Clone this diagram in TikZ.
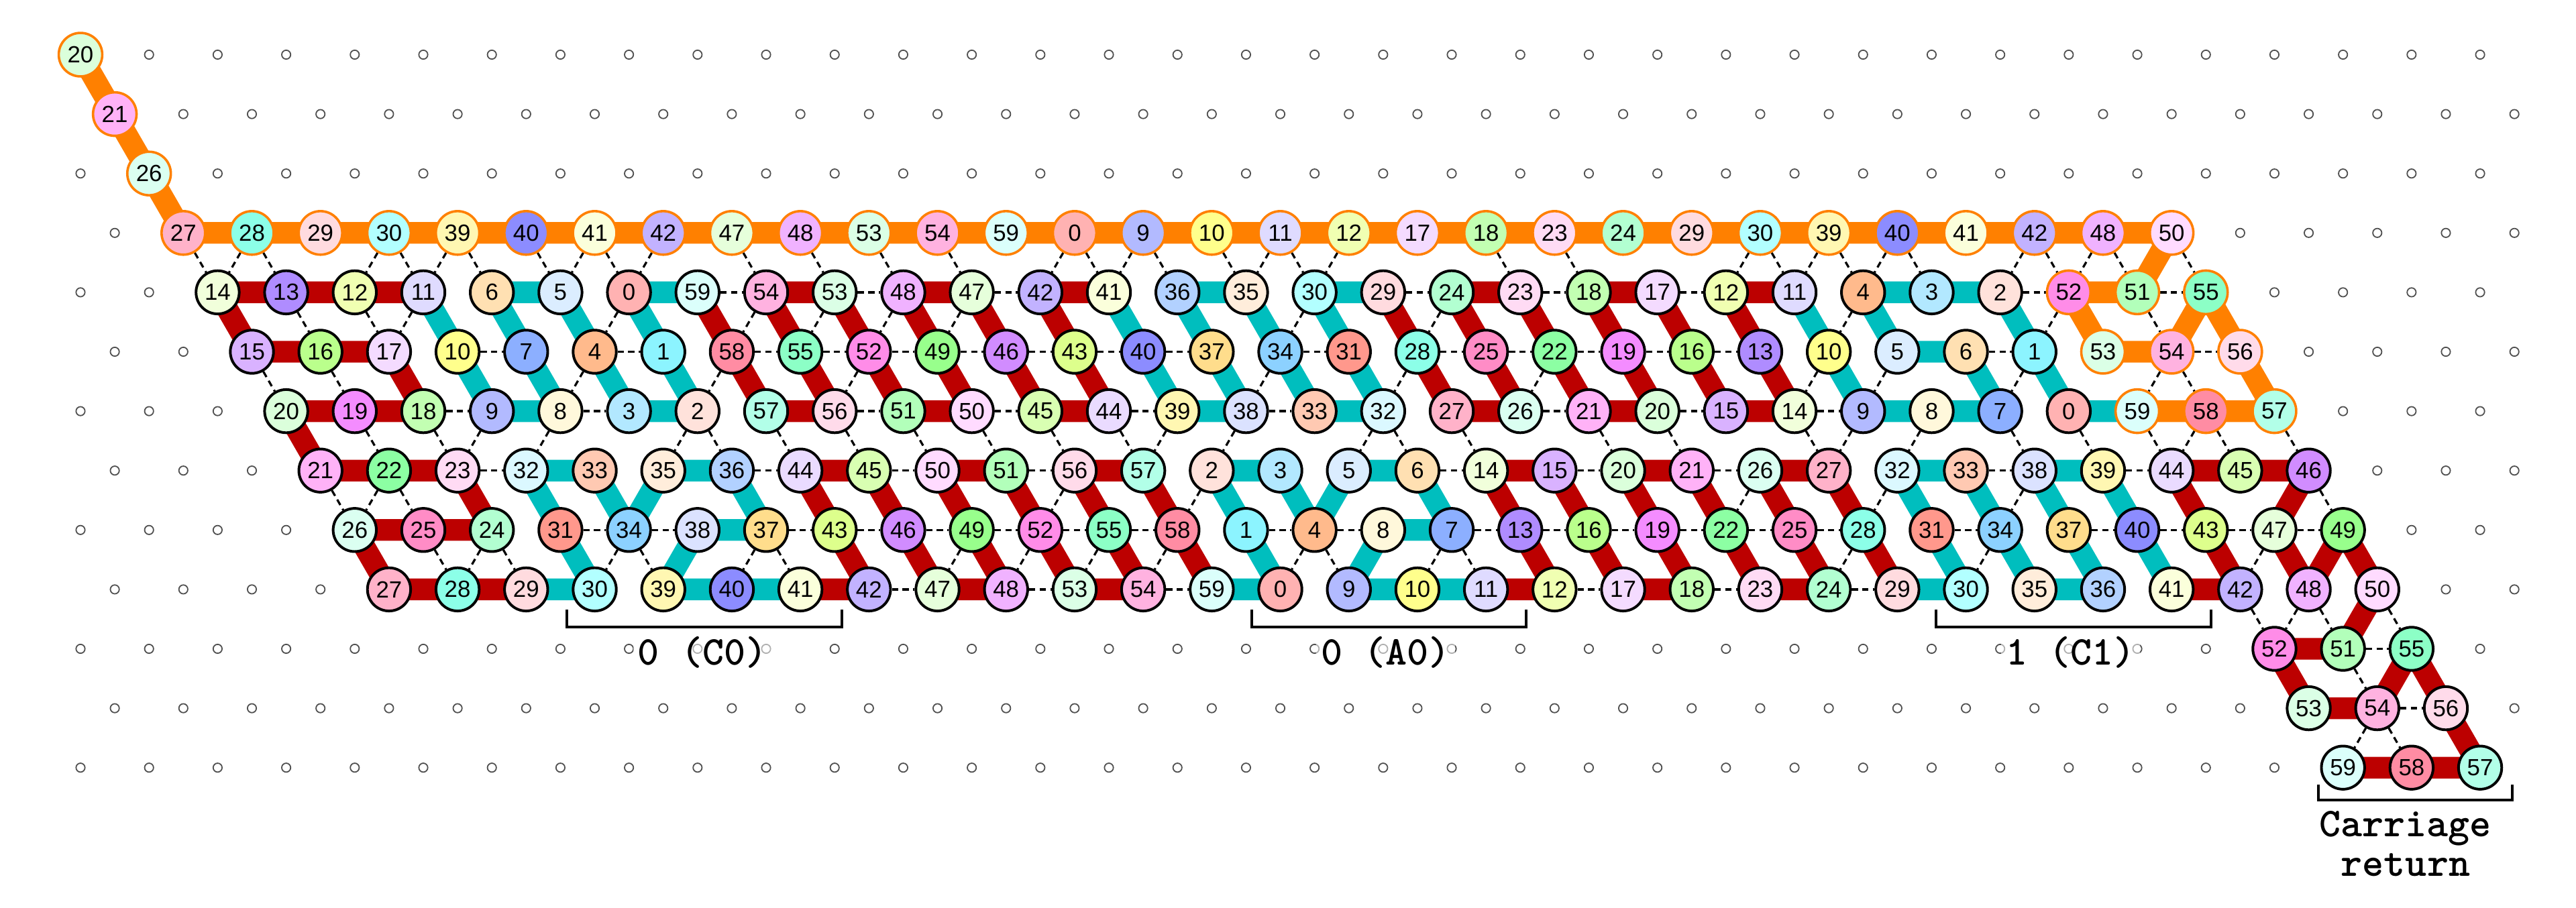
\documentclass[tikz,border=0pt]{standalone}
\usepackage{fontspec}
\newfontfamily\numfont{Liberation Sans}
\pgfdeclarelayer{dots}
\pgfdeclarelayer{edges}
\pgfsetlayers{dots,edges,main}
\definecolor{seedorange}{RGB}{255,128,0}
\definecolor{bbred}{RGB}{188,0,0}
\definecolor{bbteal}{RGB}{0,190,190}
\definecolor{dotgray}{RGB}{80,80,80}
\newcommand\placebead[4]{%
  \pgfmathsetmacro\beadhue{mod(6*#3+180*mod(#3,2),360)/60}%
  \pgfmathtruncatemacro\beadtone{mod(#3,3)}%
  \ifcase\beadtone\relax \def\beadsat{0.30}\or \def\beadsat{0.45}\else \def\beadsat{0.14}\fi
  \pgfmathsetmacro\chr{1-\beadsat*(1-min(1,max(0,abs(\beadhue-3)-1)))}%
  \pgfmathsetmacro\chg{1-\beadsat*(1-min(1,max(0,2-abs(\beadhue-2))))}%
  \pgfmathsetmacro\chb{1-\beadsat*(1-min(1,max(0,2-abs(\beadhue-4))))}%
  \definecolor{beadfill}{rgb}{\chr,\chg,\chb}%
  \node[#4, fill=beadfill] (N#1-#2) at ({1.1742+0.5*#1},{-0.7975-0.8669*#2}) {#3};%
}
\begin{document}
\begin{tikzpicture}[
  bead/.style={circle, draw=black, line width=1.1pt, minimum size=0.63cm, inner sep=0pt, font=\numfont\fontsize{9.7}{10}\selectfont},
  seedbead/.style={bead, draw=seedorange, line width=1pt, minimum size=0.635cm},
  latdot/.style={draw=dotgray, line width=0.5pt},
  bond/.style={black, line width=0.9pt, dash pattern=on 2.6pt off 1.8pt},
  seedpath/.style={seedorange, line width=9pt, line join=round, line cap=round},
  redpath/.style={bbred, line width=9pt, line join=round, line cap=round},
  tealpath/.style={bbteal, line width=9pt, line join=round, line cap=round},
  bracket/.style={black, line width=1.1pt},
  lbl/.style={font=\ttfamily\bfseries\fontsize{17}{17}\selectfont, inner sep=2pt},
  lblbg/.style={lbl, fill=white, fill opacity=0.55, text opacity=1},
]
\useasboundingbox (0,0) rectangle (37.573,-13.239);

% lattice dots
\begin{pgfonlayer}{dots}
\foreach \r in {0,...,12}{
  \pgfmathtruncatemacro\rowpar{mod(\r,2)}
  \foreach \k in {0,...,35}{
    \draw[latdot] ({1.1742+0.5*(\rowpar+2*\k)},{-0.7975-0.8669*\r}) circle (0.065);
  }
}
\end{pgfonlayer}

% seed beads
\placebead{0}{0}{20}{seedbead}
\placebead{1}{1}{21}{seedbead}
\placebead{2}{2}{26}{seedbead}
\foreach \v [count=\i from 0] in {27,28,29,30,39,40,41,42,47,48,53,54,59,0,9,10,11,12,17,18,23,24,29,30,39,40,41,42,48,50}{
  \pgfmathtruncatemacro\cc{3+2*\i}\placebead{\cc}{3}{\v}{seedbead}}
\placebead{58}{4}{52}{seedbead}
\placebead{60}{4}{51}{seedbead}
\placebead{62}{4}{55}{seedbead}
\placebead{59}{5}{53}{seedbead}
\placebead{61}{5}{54}{seedbead}
\placebead{63}{5}{56}{seedbead}
\placebead{60}{6}{59}{seedbead}
\placebead{62}{6}{58}{seedbead}
\placebead{64}{6}{57}{seedbead}

% transcript beads
\foreach \v [count=\i from 0] in {14,13,12,11,6,5,0,59,54,53,48,47,42,41,36,35,30,29,24,23,18,17,12,11,4,3,2}{
  \pgfmathtruncatemacro\cc{4+2*\i}\placebead{\cc}{4}{\v}{bead}}
\foreach \v [count=\i from 0] in {15,16,17,10,7,4,1,58,55,52,49,46,43,40,37,34,31,28,25,22,19,16,13,10,5,6,1}{
  \pgfmathtruncatemacro\cc{5+2*\i}\placebead{\cc}{5}{\v}{bead}}
\foreach \v [count=\i from 0] in {20,19,18,9,8,3,2,57,56,51,50,45,44,39,38,33,32,27,26,21,20,15,14,9,8,7,0}{
  \pgfmathtruncatemacro\cc{6+2*\i}\placebead{\cc}{6}{\v}{bead}}
\foreach \v [count=\i from 0] in {21,22,23,32,33,35,36,44,45,50,51,56,57,2,3,5,6,14,15,20,21,26,27,32,33,38,39,44,45,46}{
  \pgfmathtruncatemacro\cc{7+2*\i}\placebead{\cc}{7}{\v}{bead}}
\foreach \v [count=\i from 0] in {26,25,24,31,34,38,37,43,46,49,52,55,58,1,4,8,7,13,16,19,22,25,28,31,34,37,40,43,47,49}{
  \pgfmathtruncatemacro\cc{8+2*\i}\placebead{\cc}{8}{\v}{bead}}
\foreach \v [count=\i from 0] in {27,28,29,30,39,40,41,42,47,48,53,54,59,0,9,10,11,12,17,18,23,24,29,30,35,36,41,42,48,50}{
  \pgfmathtruncatemacro\cc{9+2*\i}\placebead{\cc}{9}{\v}{bead}}
\placebead{64}{10}{52}{bead}
\placebead{66}{10}{51}{bead}
\placebead{68}{10}{55}{bead}
\placebead{65}{11}{53}{bead}
\placebead{67}{11}{54}{bead}
\placebead{69}{11}{56}{bead}
\placebead{66}{12}{59}{bead}
\placebead{68}{12}{58}{bead}
\placebead{70}{12}{57}{bead}

\begin{pgfonlayer}{edges}
% backbone
\draw[seedpath] (N0-0.center) \foreach \p in {1-1,2-2,3-3,61-3,60-4,58-4,59-5,61-5,62-4,63-5,64-6,62-6,60-6}{ -- (N\p.center)};
\draw[tealpath] (N60-6.center) \foreach \p in {58-6,57-5,56-4,54-4,52-4,53-5,55-5,56-6,54-6,52-6,51-5,50-4}{ -- (N\p.center)};
\draw[redpath] (N50-4.center) \foreach \p in {48-4,49-5,50-6,48-6,47-5,46-4,44-4,45-5,46-6,44-6,43-5,42-4,40-4,41-5,42-6,40-6,39-5,38-4}{ -- (N\p.center)};
\draw[tealpath] (N38-4.center) \foreach \p in {36-4,37-5,38-6,36-6,35-5,34-4,32-4,33-5,34-6,32-6,31-5,30-4}{ -- (N\p.center)};
\draw[redpath] (N30-4.center) \foreach \p in {28-4,29-5,30-6,28-6,27-5,26-4,24-4,25-5,26-6,24-6,23-5,22-4,20-4,21-5,22-6,20-6,19-5,18-4}{ -- (N\p.center)};
\draw[tealpath] (N18-4.center) \foreach \p in {16-4,17-5,18-6,16-6,15-5,14-4,12-4,13-5,14-6,12-6,11-5,10-4}{ -- (N\p.center)};
\draw[redpath] (N10-4.center) \foreach \p in {8-4,6-4,4-4,5-5,7-5,9-5,10-6,8-6,6-6,7-7,9-7,11-7,12-8,10-8,8-8,9-9,11-9,13-9}{ -- (N\p.center)};
\draw[tealpath] (N13-9.center) \foreach \p in {15-9,14-8,13-7,15-7,16-8,17-7,19-7,20-8,18-8,17-9,19-9,21-9}{ -- (N\p.center)};
\draw[redpath] (N21-9.center) \foreach \p in {23-9,22-8,21-7,23-7,24-8,25-9,27-9,26-8,25-7,27-7,28-8,29-9,31-9,30-8,29-7,31-7,32-8,33-9}{ -- (N\p.center)};
\draw[tealpath] (N33-9.center) \foreach \p in {35-9,34-8,33-7,35-7,36-8,37-7,39-7,40-8,38-8,37-9,39-9,41-9}{ -- (N\p.center)};
\draw[redpath] (N41-9.center) \foreach \p in {43-9,42-8,41-7,43-7,44-8,45-9,47-9,46-8,45-7,47-7,48-8,49-9,51-9,50-8,49-7,51-7,52-8,53-9}{ -- (N\p.center)};
\draw[tealpath] (N53-9.center) \foreach \p in {55-9,54-8,53-7,55-7,56-8,57-9,59-9,58-8,57-7,59-7,60-8,61-9}{ -- (N\p.center)};
\draw[redpath] (N61-9.center) \foreach \p in {63-9,62-8,61-7,63-7,65-7,64-8,65-9,66-8,67-9,66-10,64-10,65-11,67-11,68-10,69-11,70-12,68-12,66-12}{ -- (N\p.center)};

% bonds
\foreach \xa/\ya/\xb/\yb in {
 3/3/4/4, 5/3/4/4, 5/3/6/4, 9/3/8/4, 9/3/10/4, 11/3/10/4, 11/3/12/4, 13/3/14/4, 15/3/14/4, 15/3/16/4,
 17/3/16/4, 19/3/20/4, 21/3/22/4, 23/3/24/4, 25/3/26/4, 29/3/28/4, 29/3/30/4, 31/3/30/4, 31/3/32/4,
 33/3/34/4, 35/3/34/4, 35/3/36/4, 37/3/36/4, 41/3/42/4, 43/3/44/4, 49/3/48/4, 49/3/50/4, 51/3/50/4,
 51/3/52/4, 53/3/52/4, 53/3/54/4, 57/3/56/4, 57/3/58/4, 59/3/58/4, 59/3/60/4, 61/3/62/4,
 18/4/20/4, 22/4/24/4, 26/4/28/4, 38/4/40/4, 42/4/44/4, 46/4/48/4, 56/4/58/4, 60/4/62/4,
 6/4/7/5, 8/4/9/5, 10/4/9/5, 16/4/15/5, 20/4/19/5, 22/4/21/5, 24/4/23/5, 26/4/25/5, 36/4/35/5,
 40/4/39/5, 52/4/51/5, 58/4/57/5, 60/4/61/5,
 11/5/13/5, 15/5/17/5, 19/5/21/5, 21/5/23/5, 23/5/25/5, 25/5/27/5, 27/5/29/5, 29/5/31/5, 31/5/33/5,
 35/5/37/5, 39/5/41/5, 41/5/43/5, 43/5/45/5, 45/5/47/5, 47/5/49/5, 55/5/57/5, 61/5/63/5,
 5/5/6/6, 7/5/8/6, 15/5/14/6, 19/5/18/6, 23/5/22/6, 35/5/34/6, 39/5/38/6, 43/5/42/6, 51/5/50/6,
 53/5/52/6, 57/5/56/6, 61/5/60/6, 61/5/62/6,
 10/6/12/6, 14/6/16/6, 22/6/24/6, 26/6/28/6, 30/6/32/6, 34/6/36/6, 42/6/44/6, 46/6/48/6, 50/6/52/6,
 8/6/9/7, 10/6/11/7, 12/6/11/7, 14/6/13/7, 18/6/17/7, 18/6/19/7, 20/6/21/7, 22/6/23/7, 24/6/25/7,
 26/6/27/7, 28/6/29/7, 30/6/31/7, 32/6/31/7, 34/6/33/7, 38/6/37/7, 38/6/39/7, 40/6/41/7, 44/6/45/7,
 46/6/47/7, 50/6/51/7, 52/6/51/7, 54/6/53/7, 56/6/57/7, 58/6/59/7, 60/6/61/7, 62/6/61/7, 62/6/63/7,
 64/6/65/7,
 11/7/13/7, 19/7/21/7, 23/7/25/7, 27/7/29/7, 39/7/41/7, 43/7/45/7, 47/7/49/7, 55/7/57/7, 59/7/61/7,
 7/7/8/8, 9/7/8/8, 9/7/10/8, 29/7/28/8, 33/7/32/8, 49/7/48/8, 53/7/52/8, 57/7/56/8, 65/7/66/8,
 14/8/16/8, 16/8/18/8, 20/8/22/8, 22/8/24/8, 24/8/26/8, 26/8/28/8, 28/8/30/8, 30/8/32/8, 34/8/36/8,
 36/8/38/8, 40/8/42/8, 42/8/44/8, 44/8/46/8, 46/8/48/8, 48/8/50/8, 50/8/52/8, 54/8/56/8, 58/8/60/8,
 60/8/62/8, 62/8/64/8, 64/8/66/8,
 10/8/11/9, 12/8/11/9, 12/8/13/9, 16/8/15/9, 16/8/17/9, 20/8/19/9, 20/8/21/9, 26/8/25/9, 28/8/27/9,
 30/8/29/9, 32/8/31/9, 36/8/35/9, 36/8/37/9, 40/8/39/9, 40/8/41/9, 52/8/51/9, 56/8/55/9, 64/8/63/9,
 23/9/25/9, 27/9/29/9, 31/9/33/9, 43/9/45/9, 47/9/49/9, 51/9/53/9,
 63/9/64/10, 65/9/64/10, 65/9/66/10, 67/9/68/10, 66/10/68/10, 66/10/67/11, 67/11/69/11,
 67/11/66/12, 67/11/68/12}{
  \draw[bond] (N\xa-\ya) -- (N\xb-\yb);
}
\end{pgfonlayer}

% brackets and labels
\draw[bracket] (8.268,-8.894) -- (8.268,-9.149) -- (12.280,-9.149) -- (12.280,-8.894);
\draw[bracket] (18.258,-8.894) -- (18.258,-9.149) -- (22.260,-9.149) -- (22.260,-8.894);
\draw[bracket] (28.239,-8.894) -- (28.239,-9.149) -- (32.250,-9.149) -- (32.250,-8.894);
\draw[bracket] (33.812,-11.443) -- (33.812,-11.677) -- (36.641,-11.677) -- (36.641,-11.443);
\node[lblbg, anchor=base] (lblC0) at (10.245,-9.704) {0 (C0)};
\node[lblbg, anchor=base] (lblA0) at (20.21,-9.704) {0 (A0)};
\node[lblbg, anchor=base] (lblC1) at (30.2,-9.704) {1 (C1)};
\node[lbl, anchor=base] (lblCR1) at (35.085,-12.207) {Carriage};
\node[lbl, anchor=base] (lblCR2) at (35.087,-12.779) {return};
\end{tikzpicture}
\end{document}
